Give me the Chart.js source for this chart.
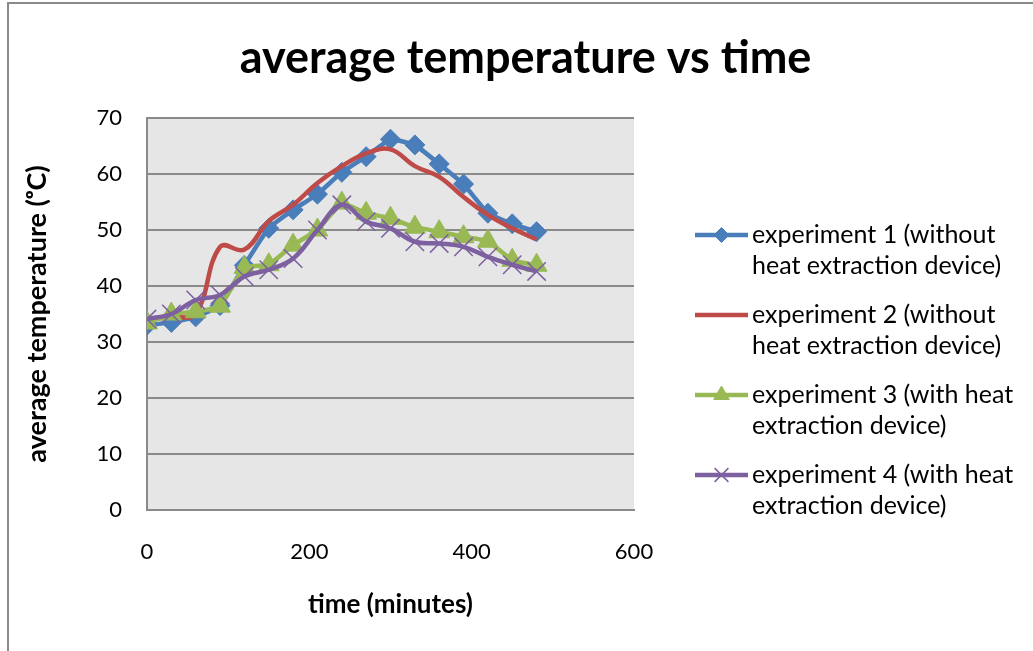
<!DOCTYPE html>
<html>
<head>
<meta charset="utf-8">
<script src="https://cdn.jsdelivr.net/npm/chart.js@4/dist/chart.umd.min.js"></script>
<style>
html,body{margin:0;padding:0;background:#fff;}
#wrap{width:1033px;height:651px;position:relative;}
</style>
</head>
<body>
<div id="wrap"><canvas id="c" width="1033" height="651"></canvas></div>
<script>
// ---- data ----
const times = [0, 30, 60, 90, 120, 150, 180, 210, 240, 270, 300, 330, 360, 390, 420, 450, 480];
const exp1 = [33, 33.5, 34.5, 36.5, 43.7, 50.3, 53.6, 56.4, 60.3, 63.1, 66.2, 65.2, 61.8, 58.2, 53, 51.1, 49.7];
const exp2 = [34, 34.5, 35, 47, 46.5, 51.6, 54.5, 58.4, 61.4, 63.7, 64.4, 61.4, 59.5, 55.9, 52.7, 50.3, 48.3];
const exp3 = [33.4, 35, 35.4, 36.4, 43.3, 43.8, 47.3, 50, 54.8, 53, 52.1, 50.5, 49.7, 48.8, 48, 44.6, 43.7];
const exp4 = [34.1, 35, 37.5, 38.4, 41.7, 42.9, 44.9, 50, 54.5, 51.5, 50.3, 47.9, 47.6, 47, 45.2, 43.8, 42.6];
const seriesLabels = [
  ['experiment 1 (without', 'heat extraction device)'],
  ['experiment 2 (without', 'heat extraction device)'],
  ['experiment 3 (with heat', 'extraction device)'],
  ['experiment 4 (with heat', 'extraction device)']
];
const xTicks = [0, 200, 400, 600];
const yTicks = [0, 10, 20, 30, 40, 50, 60, 70];
const chartTitle = 'average temperature vs time';
const xTitle = 'time (minutes)';
const yTitle = 'average temperature (\u1D52C)';

const FONT = 'Lato, "Open Sans", sans-serif';
const colors = ['#4A7EBB', '#BE4B48', '#98B954', '#7D60A0'];

function pts(arr){ return times.map((t,i)=>({x:t,y:arr[i]})); }

const styles = [
  {pointStyle:'rectRot', pointRadius:10, pointBorderWidth:1, tension:0.1},
  {pointStyle:'circle', pointRadius:0, pointBorderWidth:0, tension:0.4},
  {pointStyle:'triangle', pointRadius:12, pointBorderWidth:1, tension:0.1},
  {pointStyle:'crossRot', pointRadius:13, pointBorderWidth:1.5, tension:0.4}
];
const allSeries = [exp1, exp2, exp3, exp4];

const datasets = allSeries.map((s,i)=>({
  label: seriesLabels[i].join(' '),
  data: pts(s),
  borderColor: colors[i],
  backgroundColor: colors[i],
  pointBackgroundColor: colors[i],
  pointBorderColor: colors[i],
  borderWidth: 4.5,
  pointStyle: styles[i].pointStyle,
  pointRadius: styles[i].pointRadius,
  pointHoverRadius: styles[i].pointRadius,
  pointBorderWidth: styles[i].pointBorderWidth,
  tension: styles[i].tension,
  fill: false,
  order: 3 - i
}));

const bgPlugin = {
  id: 'bg',
  beforeDraw(chart){
    const {ctx, chartArea:a} = chart;
    ctx.save();
    ctx.fillStyle = '#ffffff';
    ctx.fillRect(0,0,chart.width,chart.height);
    ctx.strokeStyle = '#8a8a8a';
    ctx.lineWidth = 2;
    ctx.strokeRect(8, 3, 1100, 700);
    ctx.fillStyle = '#e6e6e6';
    ctx.fillRect(a.left, a.top, a.right - a.left, a.bottom - a.top);
    ctx.restore();
  }
};

const legendPlugin = {
  id: 'sideLegend',
  afterDraw(chart){
    const ctx = chart.ctx;
    chart.data.datasets.forEach((ds, i) => {
      const y = 235 + i * 80;
      ctx.save();
      ctx.strokeStyle = ds.borderColor;
      ctx.lineWidth = 4.5;
      ctx.beginPath(); ctx.moveTo(695, y); ctx.lineTo(748, y); ctx.stroke();
      if (ds.pointRadius > 0) {
        ctx.fillStyle = ds.pointBackgroundColor;
        ctx.strokeStyle = ds.pointBorderColor;
        ctx.lineWidth = ds.pointBorderWidth;
        Chart.helpers.drawPoint(ctx, {pointStyle: ds.pointStyle, radius: ds.pointRadius * 0.75, borderWidth: ds.pointBorderWidth, rotation: 0}, 721.5, y);
      }
      ctx.fillStyle = '#000';
      ctx.font = '25px ' + FONT;
      ctx.textBaseline = 'middle';
      ctx.textAlign = 'left';
      seriesLabels[i].forEach((line, k) => ctx.fillText(line, 752, y + k * 31));
      ctx.restore();
    });
  }
};

new Chart(document.getElementById('c'), {
  type: 'line',
  data: { datasets },
  options: {
    responsive: false,
    animation: false,
    events: [],
    layout: { padding: { left: 18, top: 0, right: 0, bottom: 0 } },
    plugins: {
      legend: { display: false },
      tooltip: { enabled: false },
      title: {
        display: true,
        text: chartTitle,
        color: '#000',
        font: { family: FONT, size: 45, weight: 'bold', lineHeight: 1.2 },
        padding: { top: 31, bottom: 33 }
      }
    },
    scales: {
      x: {
        type: 'linear',
        min: 0, max: 600,
        afterBuildTicks(s){ s.ticks = xTicks.map(v=>({value:v})); },
        afterFit(s){ s.height = 651 - 510; },
        grid: { display: false, drawTicks: false },
        border: { display: true, color: '#8a8a8a', width: 2 },
        ticks: { color: '#000', padding: 28.8, font: { family: FONT, size: 22 } },
        title: { display: true, text: xTitle, color: '#000', font: { family: FONT, size: 26, weight: 'bold' }, padding: { top: 0, bottom: 30.4 } }
      },
      y: {
        type: 'linear',
        min: 0, max: 70,
        afterBuildTicks(s){ s.ticks = yTicks.map(v=>({value:v})); },
        afterFit(s){ s.width = 147 - 18; },
        grid: { color: '#8a8a8a', lineWidth: 2, drawTicks: false },
        border: { display: true, color: '#8a8a8a', width: 2 },
        ticks: { color: '#000', padding: 25, font: { family: FONT, size: 22 } },
        title: { display: true, text: yTitle, color: '#000', font: { family: FONT, size: 27, weight: 'bold' }, padding: { top: 2.8, bottom: 0 } }
      },
      yRight: {
        type: 'linear',
        position: 'right',
        display: true,
        min: 0, max: 1,
        afterFit(s){ s.width = 1033 - 634; },
        grid: { display: false, drawTicks: false },
        border: { display: false },
        ticks: { display: false }
      }
    }
  },
  plugins: [bgPlugin, legendPlugin]
});
</script>
</body>
</html>
